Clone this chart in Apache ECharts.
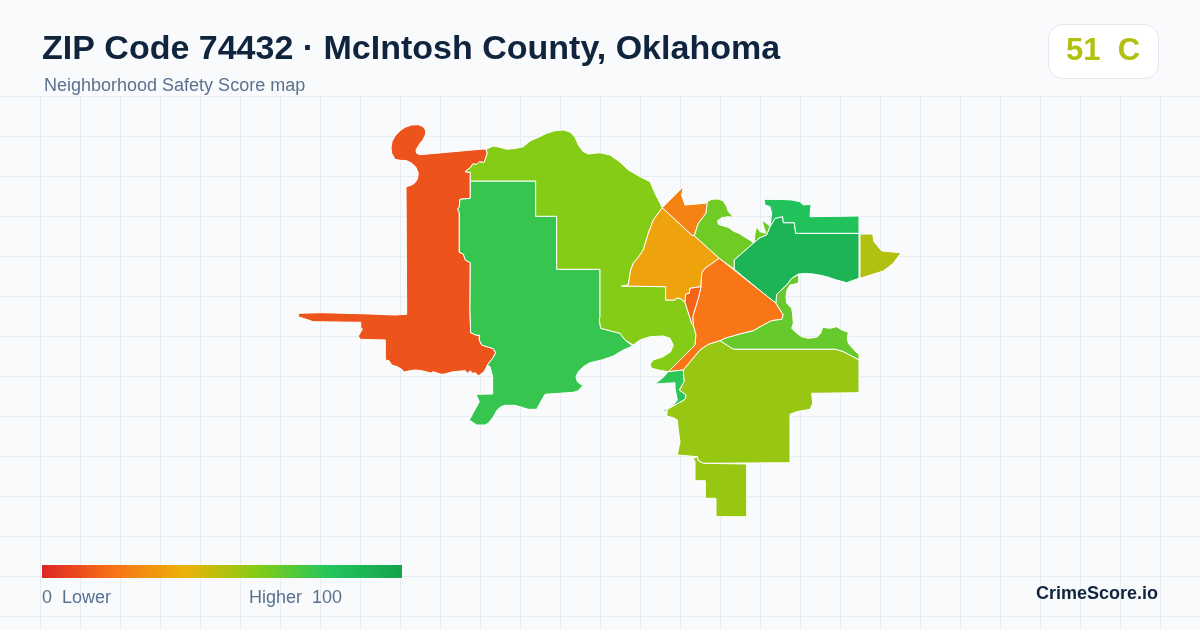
<!DOCTYPE html>
<html><head><meta charset="utf-8">
<style>html,body{margin:0;padding:0;background:#f8fafc}#c{width:1200px;height:630px}</style>
<script src="https://cdn.jsdelivr.net/npm/echarts@6/dist/echarts.min.js"></script>
</head><body><div id="c"></div>
<script>
const titleText = "ZIP Code 74432 · McIntosh County, Oklahoma";
const subtitleText = "Neighborhood Safety Score map";
const scoreText = "51  C";
const brandText = "CrimeScore.io";
const legendLow = "0  Lower";
const legendHigh = "Higher  100";
const scaleColors = ["#dc2626","#f97316","#eab308","#84cc16","#22c55e","#16a34a"];

const regionNames = ["A","B","C","D","E","F","G","H","I","J","K","L","M","N","O"];
const regionScores = [12,76,60,35,25,64,90,82,51,21,16,66,56,56,78];

const shapeA = [[391,148.3],[392,141.7],[395,136],[400,130.7],[405,127.3],[411.7,125],[418.3,124.7],[423.3,126.7],[425.7,130.7],[425.7,134],[423.3,139.3],[419.3,144.3],[416,150],[416.7,153.3],[420,154.7],[483.3,149],[486,149.3],[487.3,153.3],[484,162.7],[479.3,161.7],[476.7,164.3],[472.7,164],[470.7,167.3],[465,171.7],[470.3,172.3],[470.3,198.3],[460,199.3],[459.3,206.7],[457.7,209.3],[459.3,212.7],[459.3,252.3],[463.3,254],[465.3,260],[470.3,262.7],[470,310.7],[470.7,332.7],[476.7,335.3],[479.3,335],[479.3,340],[481.7,345],[493.3,348.7],[495.7,352.7],[493.3,357.3],[487.3,365],[486.7,366.7],[484,371.7],[478.7,375.7],[475,372.7],[472.7,373.3],[470,370.7],[467.7,373.3],[465,370.7],[453.3,371.7],[443.3,374.3],[440,374],[433.3,371.7],[430.7,373],[421.7,370.7],[415,370],[410,370.7],[404,372],[401.7,369.3],[397.3,366.7],[391.7,365],[389,360.7],[385.3,360],[385.3,340],[360,339.3],[358.3,336],[360,333.3],[362.3,329],[360.7,327.3],[360.7,322.3],[313.3,321.7],[298.3,316.7],[298.3,313.3],[321.7,312.7],[370,314],[395,315],[406.7,314.3],[406,186.7],[411.7,185],[414.7,183],[417.3,179.3],[418.3,173.3],[416,167.3],[411.7,163.3],[406.7,160.7],[400,160.3],[395,159.3],[391.7,153.3]];
const shapeB = [[470.3,181],[535.7,181],[535.7,216.3],[556.7,216.3],[556.7,269.3],[600,269.3],[600,316.7],[599.3,320],[600.7,328.3],[620,333.3],[625,340],[632.7,346],[623.3,350],[613.3,356],[601.7,360],[590,362.7],[583.3,366.7],[578.3,371.7],[576,376.7],[577.3,381.7],[581.7,385],[586,385.7],[581.7,386.7],[578.3,390.7],[573.3,392.3],[545,394.3],[541.7,400],[536.7,409.3],[528.3,409.3],[521.7,407.3],[515,405.3],[505,405.3],[500,407.3],[496.7,410.7],[493.3,416.7],[488.3,423.3],[485,425],[476.7,425],[469.3,420],[473.3,412.7],[479.3,401.7],[476,394.3],[492.7,394],[492.7,376.7],[490,366.7],[487.3,365],[493.3,357.3],[495.7,352.7],[493.3,348.7],[481.7,345],[479.3,340],[479.3,335],[476.7,335.3],[470.7,332.7],[470,310.7],[470.3,262.7],[465.3,260],[463.3,254],[459.3,252.3],[459.3,212.7],[457.7,209.3],[459.3,206.7],[460,199.3],[470.3,198.3]];
const shapeC = [[465,171.7],[470.7,167.3],[472.7,164],[476.7,164.3],[479.3,161.7],[484,162.7],[487.3,153.3],[486,149.3],[493.3,146],[500,147.3],[506.7,149.3],[516.7,148.3],[523.3,146.7],[530,141],[538.3,137.3],[546.7,133.3],[555,130.7],[563.3,130],[570,132],[575,137.3],[578.3,145],[583.3,151.7],[588.3,154],[600,152.7],[610,155],[620,162],[628.3,170],[640,176.7],[650,181.7],[655,193.3],[662.3,207.7],[653.3,220],[648.3,233.3],[643.3,250],[638.3,257.3],[633.3,263.3],[630.7,270],[628.3,285],[621.7,286],[665.7,286.7],[665.7,300],[675,300],[676,298.3],[680,298.3],[685,302.3],[691.7,323.3],[693.3,325],[696,335],[695,345],[680,360],[668.3,371.7],[658.3,370],[651.7,368.3],[650,364],[653.3,360],[663.3,356.7],[670.7,351.7],[673.3,345],[670,338.3],[663.3,336],[650,336.7],[640,340],[633.3,345],[632.7,346],[625,340],[620,333.3],[600.7,328.3],[599.3,320],[600,316.7],[600,269.3],[556.7,269.3],[556.7,216.3],[535.7,216.3],[535.7,181],[470.3,181],[470.3,172.3]];
const shapeD = [[662.3,207.7],[691.7,235],[694.3,235.7],[719.3,258.3],[705,268.3],[701.7,273.3],[701,286.7],[690,288.3],[689.3,293.3],[685.7,294],[685,302.3],[680,298.3],[676,298.3],[675,300],[665.7,300],[665.7,286.7],[621.7,286],[628.3,285],[630.7,270],[633.3,263.3],[638.3,257.3],[643.3,250],[648.3,233.3],[653.3,220]];
const shapeE = [[662.3,207.7],[683.3,186.7],[681.7,195],[685,205],[705,203.3],[707.3,201.7],[706,213.3],[698.3,223.3],[694.3,235.7],[691.7,235]];
const shapeF = [[707.3,201.7],[711.7,199.3],[718.3,199],[723.3,201],[726.7,206.7],[728.3,211.7],[731.7,215],[733.3,217.3],[728.3,216.7],[721.7,217.7],[717.7,220.7],[718.3,224.3],[723.3,226],[728.3,227.3],[733.3,231],[740,234],[746.7,238.3],[754,242.7],[755,233.3],[756.7,226.7],[760,231.7],[765.7,233.3],[761.7,220],[769,225],[770,226.7],[766.7,235],[760,237.7],[754,242.7],[734.3,260],[734.3,269.3],[719.3,258.3],[694.3,235.7],[698.3,223.3],[706,213.3]];
const shapeG = [[734.3,260],[754,242.7],[760,237.7],[766.7,235],[770,226.7],[775,218.3],[782.7,216.7],[783.3,222.7],[794.3,222.7],[795.7,233.3],[859,233.3],[859,278.3],[846.7,282.7],[836.7,280],[826.7,276.7],[819,275],[813.3,274],[806,273.5],[798.3,274],[791.7,278.3],[786.7,285],[776.7,294.3],[776,303.3],[763.3,293.3],[734.3,269.3]];
const shapeH = [[764,199.3],[783,199.5],[791.7,200],[800,201.7],[803.3,205],[811,204.3],[810,216.7],[859,216],[859,233.3],[795.7,233.3],[794.3,222.7],[783.3,222.7],[782.7,216.7],[775,218.3],[770,226.7],[771.7,213.3],[770,206.7],[765,205]];
const shapeI = [[860,234],[872.7,234],[874,241.7],[881.7,251],[901,252.7],[893.3,263.3],[883.3,271],[860,278.3]];
const shapeJ = [[719.3,258.3],[763.3,293.3],[776,303.3],[783.3,315],[781.7,319.3],[771.7,320.7],[763.3,325],[753.3,330.7],[740,334],[725,338.3],[720,340.7],[708,344.5],[700,350],[691.7,360],[683.3,370],[668.3,371.7],[680,360],[695,345],[696,335],[693.3,325],[692.7,316.7],[698.3,298.3],[701,286.7],[701.7,273.3],[705,268.3]];
const shapeK = [[685.7,294],[689.3,293.3],[690,288.3],[701,286.7],[698.3,298.3],[692.7,316.7],[693.3,325],[691.7,323.3],[685,302.3]];
const shapeL = [[776.7,294.3],[786.7,285],[791.7,278.3],[799,274.3],[798.3,283.3],[790,285],[787,290],[786,296.7],[786.7,303.3],[791.7,308.3],[792.7,315],[793.3,323.3],[791.7,328.3],[796.7,333.3],[801.7,336.7],[808.3,338.3],[816.7,337.3],[820.7,333.3],[822.7,327.3],[830,328.3],[836.7,326.7],[841.7,330],[848.3,332.3],[847.3,338.3],[848.3,343.3],[851.7,347.3],[857.3,353.3],[859,354],[859,360],[843.3,351.7],[835,349.3],[733.3,349.3],[720,340.7],[725,338.3],[740,334],[753.3,330.7],[763.3,325],[771.7,320.7],[781.7,319.3],[783.3,315],[776,303.3]];
const shapeM = [[720,340.7],[733.3,349.3],[835,349.3],[843.3,351.7],[859,360],[859,392.7],[811.7,393.3],[812.7,403.3],[810,409.3],[796.7,411.7],[790,414.3],[790,462.7],[703.3,463.3],[698.3,460.7],[697.3,456.7],[677.3,455],[680,441.7],[678.3,430],[677.3,420],[674,418],[666.7,416],[667.3,409.3],[685,399.3],[686,395],[679.3,390],[684,381.7],[683.3,370],[691.7,360],[700,350],[708,344.5]];
const shapeN = [[693.3,458.3],[697.3,456.7],[698.3,460.7],[703.3,463.3],[746.7,464],[746.7,516.7],[716,516.7],[716,498.3],[705.3,498.3],[705.3,480.7],[695,480.7],[695,461.7]];
const shapeO = [[668.3,371.7],[683.3,370],[684,381.7],[679.3,390],[686,395],[685,399.3],[667.3,409.3],[665,411.7],[663.3,410.7],[673.3,405],[677.3,400],[675,388.3],[675,382.7],[655,384],[663.3,377.3]];
const regionShapes = [shapeA,shapeB,shapeC,shapeD,shapeE,shapeF,shapeG,shapeH,shapeI,shapeJ,shapeK,shapeL,shapeM,shapeN,shapeO];

const geoJson = {type:"FeatureCollection",features:regionNames.map((n,i)=>{
  const ring = regionShapes[i].map(p=>[p[0],-p[1]]); ring.push(ring[0]);
  return {type:"Feature",properties:{name:n},geometry:{type:"Polygon",coordinates:[ring]}};
})};
echarts.registerMap("zip74432",geoJson);
const all = regionShapes.flat();
const xs = all.map(p=>p[0]), ys = all.map(p=>p[1]);
const minX=Math.min(...xs),maxX=Math.max(...xs),minY=Math.min(...ys),maxY=Math.max(...ys);

const gridEls=[];
const gridColor="#e7edf3";
for(let x=40;x<1200;x+=40) gridEls.push({type:"line",silent:true,z:-5,shape:{x1:x+.5,y1:96,x2:x+.5,y2:630},style:{stroke:gridColor,lineWidth:1}});
for(let y=96;y<630;y+=40) gridEls.push({type:"line",silent:true,z:-5,shape:{x1:0,y1:y+.5,x2:1200,y2:y+.5},style:{stroke:gridColor,lineWidth:1}});

const font='"Liberation Sans", Arial, sans-serif';
const chart=echarts.init(document.getElementById("c"),null,{renderer:"canvas"});
chart.setOption({
  animation:false,
  backgroundColor:"#f8fafc",
  tooltip:{show:false},
  visualMap:{type:"continuous",show:false,min:0,max:100,seriesIndex:0,inRange:{color:scaleColors}},
  series:[{type:"map",map:"zip74432",aspectScale:1,left:minX,top:minY,width:maxX-minX,height:maxY-minY,roam:false,silent:true,selectedMode:false,
    label:{show:false},emphasis:{disabled:true},
    itemStyle:{borderColor:"#ffffff",borderWidth:1},
    data:regionNames.map((n,i)=>({name:n,value:regionScores[i]}))}],
  graphic:[...gridEls,
    {type:"text",x:42,y:49.5,style:{text:titleText,font:`bold 34px ${font}`,fill:"#10243e",textVerticalAlign:"middle"}},
    {type:"text",x:44,y:86,style:{text:subtitleText,font:`18px ${font}`,fill:"#5b7190",textVerticalAlign:"middle"}},
    {type:"rect",shape:{x:1048.5,y:24.5,width:110,height:54,r:14},style:{fill:"#ffffff",stroke:"#e2e8f0",lineWidth:1}},
    {type:"text",x:1103,y:51.5,style:{text:scoreText,font:`bold 31px ${font}`,fill:"#b2c110",textAlign:"center",textVerticalAlign:"middle"}},
    {type:"rect",shape:{x:42,y:565,width:360,height:13},style:{fill:new echarts.graphic.LinearGradient(0,0,1,0,scaleColors.map((c,i)=>({offset:i/(scaleColors.length-1),color:c})))}},
    {type:"text",x:42,y:598,style:{text:legendLow,font:`18px ${font}`,fill:"#5b7190",textVerticalAlign:"middle"}},
    {type:"text",x:342,y:598,style:{text:legendHigh,font:`18px ${font}`,fill:"#5b7190",textAlign:"right",textVerticalAlign:"middle"}},
    {type:"text",x:1158,y:594,style:{text:brandText,font:`bold 18px ${font}`,fill:"#10243e",textAlign:"right",textVerticalAlign:"middle"}}
  ]
});
</script></body></html>
